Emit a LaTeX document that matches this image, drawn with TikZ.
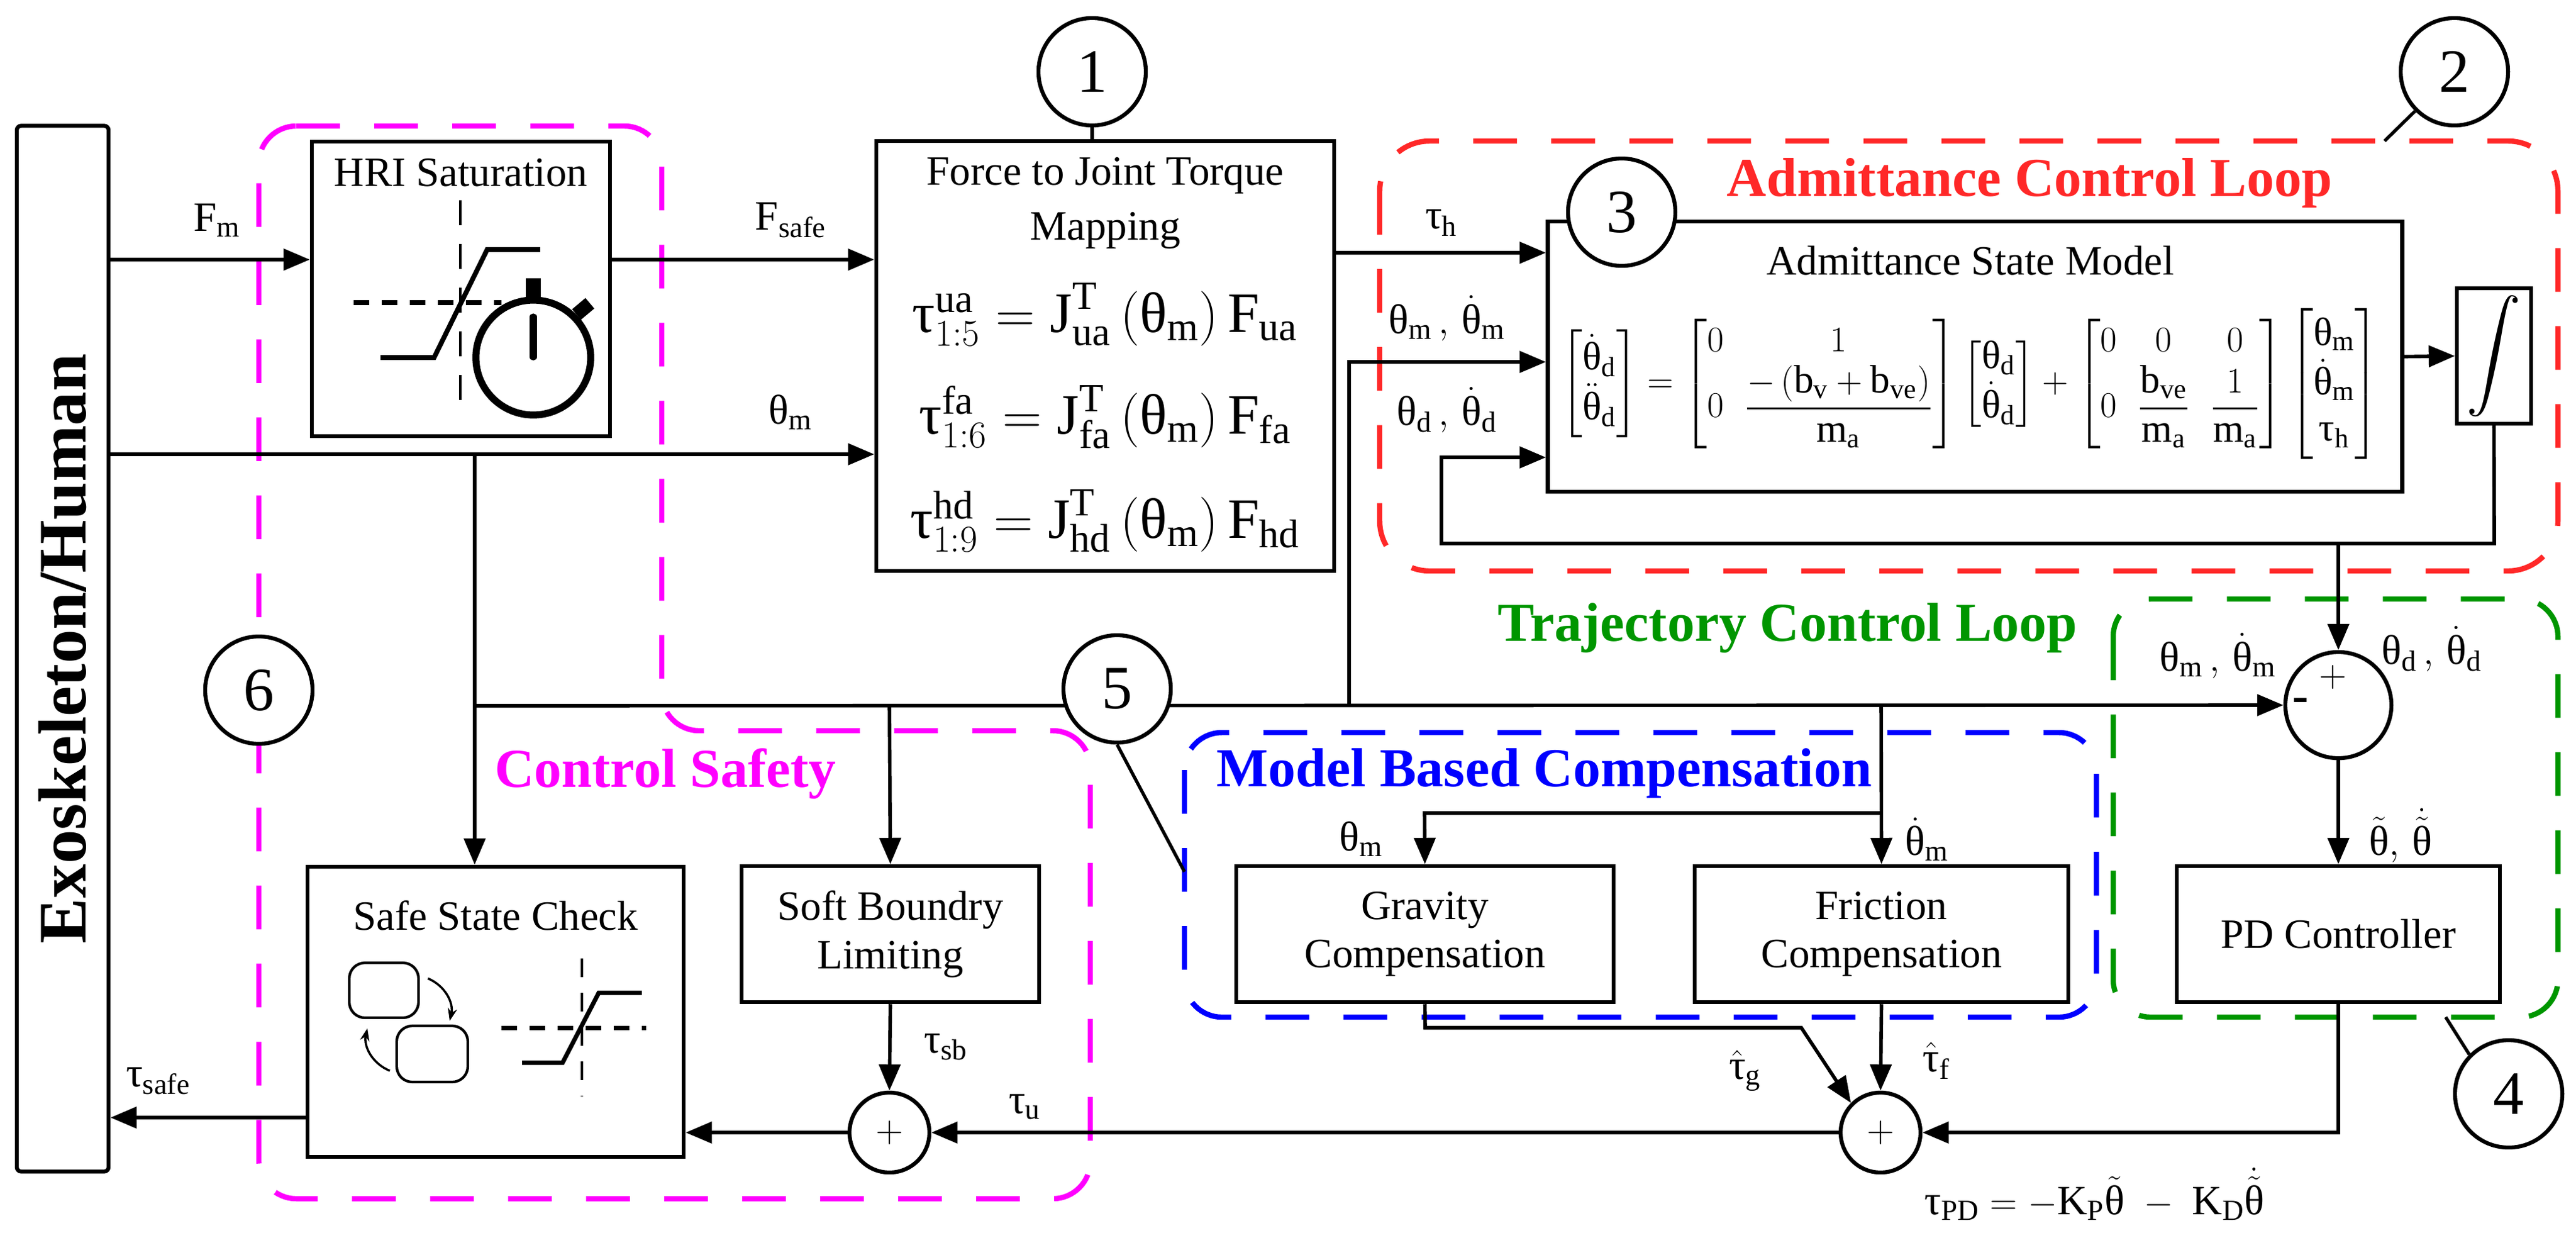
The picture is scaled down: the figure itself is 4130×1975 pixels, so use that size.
\documentclass[tikz,border=0pt]{standalone}
\usepackage{amsmath}
\usepackage{fontspec}
\setmainfont{Liberation Serif}
\usepackage{graphicx}
\usetikzlibrary{arrows.meta,calc}
\definecolor{cred}{RGB}{255,40,40}
\definecolor{cgreen}{RGB}{0,150,0}
\definecolor{cblue}{RGB}{0,0,255}
\definecolor{cmag}{RGB}{255,0,255}
\newcommand{\rmm}[1]{\text{#1}}
\newcommand{\Th}{\text{θ}}
\newcommand{\Ta}{\text{τ}}
\begin{document}
\begin{tikzpicture}[x=0.01cm,y=-0.01cm,
  every node/.style={font=\fontsize{19}{22}\selectfont, inner sep=0pt},
  box/.style={draw, line width=1.8pt, fill=white},
  num/.style={draw, circle, line width=1.8pt, minimum size=1.72cm, fill=white, font=\fontsize{28}{30}\selectfont},
  sum/.style={draw, circle, line width=1.8pt, minimum size=1.28cm, fill=white},
  arr/.style={line width=1.6pt, -{Triangle[length=4.2mm,width=3.4mm]}},
  reg/.style={line width=2.4pt, dash pattern=on 7mm off 5.5mm},
  lab/.style={font=\fontsize{19}{22}\selectfont},
  eqf/.style={font=\fontsize{26}{30}\selectfont},
  ttl/.style={font=\fontsize{25}{28}\selectfont\bfseries}]
\useasboundingbox (0,0) rectangle (4130,1975);

% regions
\draw[reg, cred, rounded corners=0.8cm] (2212,226) rectangle (4101,915);
\draw[reg, cgreen, rounded corners=0.6cm] (3388,960) rectangle (4101,1630);
\draw[reg, cblue, rounded corners=0.6cm] (1899,1174) rectangle (3361,1630);
\draw[reg, cmag, rounded corners=0.6cm] (415,202) -- (1061,202) -- (1061,1171) -- (1748,1171) -- (1748,1921) -- (415,1921) -- cycle;

\node[ttl, text=cred] (tadm) at (3254,293) {Admittance Control Loop};
\node[ttl, text=cgreen] (ttraj) at (2866,1006) {Trajectory Control Loop};
\node[ttl, text=cblue] (tmbc) at (2476,1239) {Model Based Compensation};
\node[ttl, text=cmag] (tcs) at (1067,1240) {Control Safety};

% boxes
\node[box, rounded corners=2pt, minimum width=1.47cm, minimum height=16.75cm] (exo) at (100.5,1039.5) {};
\node[rotate=90, font=\fontsize{31}{34}\selectfont\bfseries] (exot) at (100.5,1039.5) {Exoskeleton/Human};
\node[box, minimum width=4.78cm, minimum height=4.72cm] (hri) at (739,463) {};
\node (hrit) at (739,277) {HRI Saturation};
\node[box, minimum width=7.34cm, minimum height=6.89cm] (force) at (1772,570.5) {};
\node (ft1) at (1772,281) {Force to Joint Torque};
\node (ft2) at (1772,370) {Mapping};
\node[eqf] (eq1) at (1772,504) {$\Ta^{\rmm{ua}}_{1:5}=\rmm{J}^{\rmm{T}}_{\rmm{ua}}\left(\Th_{\rmm{m}}\right)\rmm{F}_{\rmm{ua}}$};
\node[eqf] (eq2) at (1772,668) {$\Ta^{\rmm{fa}}_{1:6}=\rmm{J}^{\rmm{T}}_{\rmm{fa}}\left(\Th_{\rmm{m}}\right)\rmm{F}_{\rmm{fa}}$};
\node[eqf] (eq3) at (1772,835) {$\Ta^{\rmm{hd}}_{1:9}=\rmm{J}^{\rmm{T}}_{\rmm{hd}}\left(\Th_{\rmm{m}}\right)\rmm{F}_{\rmm{hd}}$};
\node[box, minimum width=13.69cm, minimum height=4.33cm] (adm) at (3166.5,571.5) {};
\node (admt) at (3159,418) {Admittance State Model};
\node (admeq) at (3159,615) {\resizebox{13.1cm}{!}{$\begin{bmatrix}\dot\Th_{\rmm d}\\ \ddot\Th_{\rmm d}\end{bmatrix}=\begin{bmatrix}0 & 1\\ 0 & \dfrac{-\left(\rmm{b}_{\rmm v}+\rmm{b}_{\rmm{ve}}\right)}{\rmm{m}_{\rmm a}}\end{bmatrix}\begin{bmatrix}\Th_{\rmm d}\\ \dot\Th_{\rmm d}\end{bmatrix}+\begin{bmatrix}0 & 0 & 0\\ 0 & \dfrac{\rmm{b}_{\rmm{ve}}}{\rmm{m}_{\rmm a}} & \dfrac{1}{\rmm{m}_{\rmm a}}\end{bmatrix}\begin{bmatrix}\Th_{\rmm m}\\ \dot\Th_{\rmm m}\\ \Ta_{\rmm h}\end{bmatrix}$}};
\node[box, minimum width=1.19cm, minimum height=2.17cm, font=\fontsize{30}{32}\selectfont] (integ) at (3998.5,570.5) {$\displaystyle\int$};
\node[box, minimum width=6.03cm, minimum height=4.65cm] (safe) at (794.5,1621.5) {};
\node (safet) at (794.5,1467) {Safe State Check};
\node[box, minimum width=4.77cm, minimum height=2.18cm, align=center] (soft) at (1427.5,1497) {Soft Boundry\\Limiting};
\node[box, minimum width=6.05cm, minimum height=2.18cm, align=center] (grav) at (2284.5,1497) {Gravity\\Compensation};
\node[box, minimum width=5.99cm, minimum height=2.18cm, align=center] (fric) at (3016.5,1497) {Friction\\Compensation};
\node[box, minimum width=5.18cm, minimum height=2.18cm] (pd) at (3749,1497) {PD Controller};

% HRI icon
\draw[line width=1.4pt, dash pattern=on 4mm off 3mm] (738,321) -- (738,655);
\draw[line width=2.2pt, dash pattern=on 2.5mm off 2mm] (567,485) -- (804,485);
\draw[line width=2.2pt] (610,573) -- (696,573) -- (781,400) -- (866,400);
\draw[line width=3.2pt, fill=white] (855,573) circle (0.92cm);
\fill (843,446) rectangle (867,482);
\fill[rotate around={40:(935,495)}] (921,484) rectangle (949,506);
\draw[line width=3.2pt, line cap=round] (855,508) -- (855,572);

% Safe state icons
\draw[line width=1.2pt, rounded corners=0.25cm] (560,1543) rectangle (671,1631);
\draw[line width=1.2pt, rounded corners=0.25cm] (636,1644) rectangle (750,1734);
\draw[line width=1pt, -{Stealth[length=2mm]}] (686,1568) to[bend left=40] (721,1636);
\draw[line width=1pt, -{Stealth[length=2mm]}] (625,1716) to[bend left=40] (589,1648);
\draw[line width=1.4pt, dash pattern=on 3mm off 2.5mm] (933,1536) -- (933,1757);
\draw[line width=2pt, dash pattern=on 2.5mm off 2mm] (804,1647) -- (1036,1647);
\draw[line width=2pt] (837,1703) -- (902,1703) -- (960,1591) -- (1029,1591);

% summing junctions
\node[sum, minimum size=1.7cm] (sA) at (3749,1130) {};
\node[font=\fontsize{17}{20}\selectfont] (sAp) at (3740,1085) {$+$};
\node[font=\fontsize{22}{24}\selectfont\bfseries] (sAm) at (3688,1130) {-};
\node[sum] (s2) at (3015,1815) {$+$};
\node[sum] (s1) at (1426,1815) {$+$};

% connectors
\coordinate (fmS) at (174,416);
\draw[arr] (fmS) -- (hri.west |- fmS);
\coordinate (fsS) at (978,416);
\draw[arr] (fsS) -- (force.west |- fsS);
\coordinate (thS) at (174,728);
\draw[arr] (thS) -- (force.west |- thS);
\coordinate (jn) at (761,728);
\coordinate (bus) at (761,1131);
\draw[arr] (jn) -- (safe.north -| jn);
\draw[arr] (bus) -- (sA.west);
\coordinate (softJ) at (1426,1131);
\draw[arr] (softJ) -- (soft.north);
\coordinate (thJ) at (2163,1131);
\coordinate (thT) at (2163,580);
\draw[arr] (thJ) -- (thT) -- (adm.west |- thT);
\coordinate (thH) at (2139,405);
\draw[arr] (thH) -- (adm.west |- thH);
\draw[arr] (adm.east) -- (integ.west);
\coordinate (fb1) at (3999,871);
\coordinate (fb2) at (2311,871);
\coordinate (fb3) at (2311,733);
\draw[arr] (integ.south) -- (fb1) -- (fb2) -- (fb3) -- (adm.west |- fb3);
\coordinate (dnJ) at (3749,871);
\draw[arr] (dnJ) -- (sA.north);
\draw[arr] (sA.south) -- (pd.north);
\coordinate (mJ) at (3016,1131);
\draw[arr] (mJ) -- (fric.north);
\coordinate (mB) at (3016,1303);
\coordinate (mG) at (2284,1303);
\draw[arr] (mB) -- (mG) -- (grav.north);
\coordinate (g1) at (2285,1647);
\coordinate (g2) at (2888,1647);
\draw[arr] (grav.south) -- (g1) -- (g2) -- (s2.north west);
\draw[arr] (fric.south) -- (s2.north);
\coordinate (pdD) at (3749,1815);
\draw[arr] (pd.south) -- (pdD) -- (s2.east);
\draw[arr] (s2.west) -- (s1.east);
\draw[arr] (soft.south) -- (s1.north);
\draw[arr] (s1.west) -- (safe.east |- s1.west);
\coordinate (tsS) at (493,1791);
\draw[arr] (tsS) -- (exo.east |- tsS);

% numbered circles
\node[num] (c1) at (1751,115) {1};
\draw[line width=1.5pt] (c1.south) -- (force.north -| c1.south);
\node[num] (c2) at (3935,115) {2};
\coordinate (c2e) at (3823,226);
\draw[line width=1.5pt] (c2.south west) -- (c2e);
\node[num] (c3) at (2600,340) {3};
\node[num] (c4) at (4022,1753) {4};
\coordinate (c4e) at (3921,1630);
\draw[line width=1.5pt] (c4.north west) -- (c4e);
\node[num] (c5) at (1791,1104) {5};
\coordinate (c5e) at (1899,1397);
\draw[line width=1.5pt] (c5.south) -- (c5e);
\node[num] (c6) at (415,1106) {6};

% labels
\node[lab] (lfm) at (348,353) {$\rmm F_{\rmm m}$};
\node[lab] (lfs) at (1268,353) {$\rmm F_{\rmm{safe}}$};
\node[lab] (lth) at (1268,661) {$\Th_{\rmm m}$};
\node[lab] (lth2) at (2311,357) {$\Ta_{\rmm h}$};
\node[lab] (lthm) at (2320,510) {$\Th_{\rmm m}\,,\,\dot\Th_{\rmm m}$};
\node[lab] (lthd) at (2320,657) {$\Th_{\rmm d}\,,\,\dot\Th_{\rmm d}$};
\node[lab] (lthm2) at (3556,1051) {$\Th_{\rmm m}\,,\,\dot\Th_{\rmm m}$};
\node[lab] (lthd2) at (3899,1040) {$\Th_{\rmm d}\,,\,\dot\Th_{\rmm d}$};
\node[lab] (lerr) at (3849,1339) {$\tilde\Th,\,\dot{\tilde\Th}$};
\node[lab] (lgth) at (2183,1345) {$\Th_{\rmm m}$};
\node[lab] (lfth) at (3090,1345) {$\dot\Th_{\rmm m}$};
\node[lab] (lsb) at (1517,1678) {$\Ta_{\rmm{sb}}$};
\node[lab] (lu) at (1643,1774) {$\Ta_{\rmm u}$};
\node[lab] (lg) at (2798,1716) {$\hat\Ta_{\rmm g}$};
\node[lab] (lf) at (3105,1700) {$\hat\Ta_{\rmm f}$};
\node[lab] (lpd) at (3358,1914) {$\Ta_{\rmm{PD}}=-\rmm K_{\rmm P}\tilde\Th\;-\;\rmm K_{\rmm D}\dot{\tilde\Th}$};
\node[lab] (lsafe) at (254,1732) {$\Ta_{\rmm{safe}}$};
\end{tikzpicture}
\end{document}
